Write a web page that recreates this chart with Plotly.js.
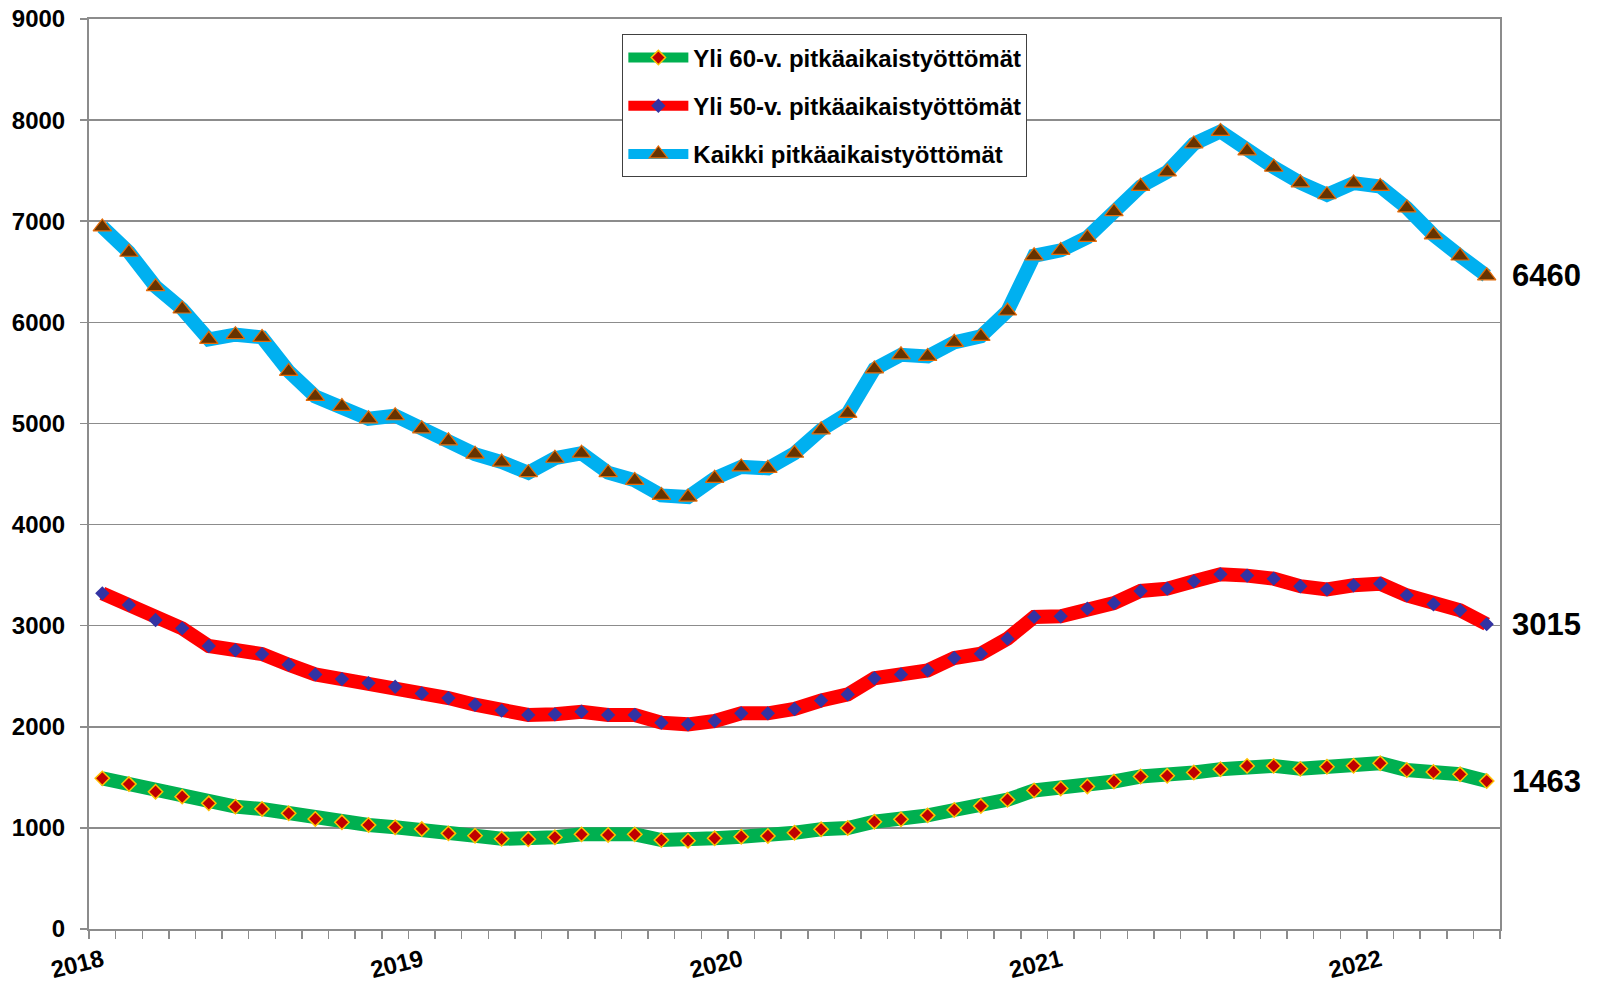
<!DOCTYPE html>
<html>
<head>
<meta charset="utf-8">
<script src="https://cdn.plot.ly/plotly-3.0.1.min.js"></script>
<style>
html,body{margin:0;padding:0;background:#fff;}
#chart{width:1602px;height:984px;}
</style>
</head>
<body>
<div id="chart"></div>
<script>
// Months Jan 2018 .. May 2022
var months = [];
for (var yy = 2018; yy <= 2022; yy++) {
  for (var mm = 1; mm <= 12; mm++) {
    if (yy === 2022 && mm > 5) break;
    months.push(yy + '-' + (mm < 10 ? '0' + mm : mm));
  }
}
var yearLabels = ['2018', '2019', '2020', '2021', '2022'];

var seriesNames = ['Yli 60-v. pitkäaikaistyöttömät', 'Yli 50-v. pitkäaikaistyöttömät', 'Kaikki pitkäaikaistyöttömät'];

var yli60 = [1490,1434,1358,1309,1243,1210,1187,1144,1088,1055,1029,1006,989,946,923,892,887,907,936,930,936,880,873,897,913,920,952,986,999,1061,1085,1124,1177,1216,1279,1370,1390,1410,1459,1508,1515,1548,1580,1613,1613,1584,1604,1614,1640,1572,1553,1530,1463];

var yli50 = [3320,3205,3056,2974,2799,2759,2719,2614,2518,2472,2432,2396,2330,2284,2218,2160,2117,2123,2149,2117,2117,2041,2024,2057,2133,2133,2176,2260,2320,2480,2518,2558,2680,2723,2871,3086,3092,3168,3224,3343,3366,3439,3508,3495,3465,3390,3359,3399,3415,3300,3211,3152,3015];

var kaikki = [6944,6693,6353,6132,5832,5878,5851,5515,5267,5168,5046,5076,4947,4828,4696,4618,4513,4656,4705,4513,4437,4288,4272,4457,4570,4556,4705,4937,5099,5539,5679,5663,5802,5861,6112,6658,6711,6840,7094,7345,7488,7765,7888,7696,7534,7380,7262,7377,7344,7132,6864,6656,6460];

var yTicks = [0,1000,2000,3000,4000,5000,6000,7000,8000,9000];

var xIdx = months.map(function(m, i){ return i; });
var yearIdx = [];
months.forEach(function(m, i){ if (m.slice(5) === '01') yearIdx.push(i); });

var FONT = 'Liberation Sans, Arial, sans-serif';

var traces = [
  {
    x: xIdx, y: yli60, name: seriesNames[0], type: 'scatter', mode: 'lines+markers',
    legendgroup: 'a',
    line: {color: '#00b050', width: 14},
    marker: {symbol: 'diamond', size: 11, color: '#c00000', line: {color: '#ffc000', width: 1.5}}
  },
  {
    x: xIdx, y: yli50, name: seriesNames[1], type: 'scatter', mode: 'lines+markers',
    legendgroup: 'b',
    line: {color: '#ff0000', width: 14},
    marker: {symbol: 'diamond', size: 11, color: '#3333a3', line: {width: 0}}
  },
  {
    x: xIdx, y: kaikki, name: seriesNames[2], type: 'scatter', mode: 'lines+markers',
    legendgroup: 'c',
    line: {color: '#00b0f0', width: 14},
    marker: {symbol: 'triangle-up', size: 16, color: '#663300', line: {color: '#e46c0a', width: 1.2}}
  }
];

var lastIdx = xIdx.length - 1;
var annotations = [yli60, yli50, kaikki].map(function(s){
  return {
    xref: 'paper', x: 1, yref: 'y', y: s[lastIdx],
    text: String(s[lastIdx]), showarrow: false,
    xanchor: 'left', yanchor: 'middle', xshift: 10,
    font: {family: FONT, size: 31, color: '#000', weight: 700}
  };
});

var layout = {
  width: 1602, height: 984,
  margin: {l: 89, r: 102, t: 19, b: 55, pad: 0},
  paper_bgcolor: '#ffffff', plot_bgcolor: '#ffffff',
  showlegend: true,
  legend: {
    x: 0.378, y: 0.983, xanchor: 'left', yanchor: 'top',
    bgcolor: '#ffffff', bordercolor: '#404040', borderwidth: 1,
    font: {family: FONT, size: 24, color: '#000', weight: 700},
    itemwidth: 60, tracegroupgap: 14, traceorder: 'grouped'
  },
  xaxis: {
    range: [-0.5, lastIdx + 0.5],
    tickmode: 'array', tickvals: yearIdx, ticktext: yearLabels,
    ticks: '', tickangle: -14,
    showgrid: false, zeroline: false,
    showline: true, linecolor: '#8c8c8c', linewidth: 2, mirror: true,
    ticklabelstandoff: 6,
    tickfont: {family: FONT, size: 24, color: '#000', weight: 700},
    minor: {tickmode: 'linear', tick0: -0.5, dtick: 1, ticks: 'outside', ticklen: 8, tickwidth: 1.5, tickcolor: '#8c8c8c', showgrid: false}
  },
  yaxis: {
    range: [0, 9000],
    tickmode: 'array', tickvals: yTicks, ticktext: yTicks.map(String),
    ticks: 'outside', ticklen: 7, tickwidth: 1.5, tickcolor: '#8c8c8c',
    showgrid: true, gridcolor: '#8c8c8c', gridwidth: 1.5,
    zeroline: false,
    showline: true, linecolor: '#8c8c8c', linewidth: 2, mirror: true,
    ticklabelstandoff: 10,
    tickfont: {family: FONT, size: 24, color: '#000', weight: 700}
  },
  annotations: annotations
};

Plotly.newPlot('chart', traces, layout, {displayModeBar: false, staticPlot: true});
</script>
</body>
</html>
